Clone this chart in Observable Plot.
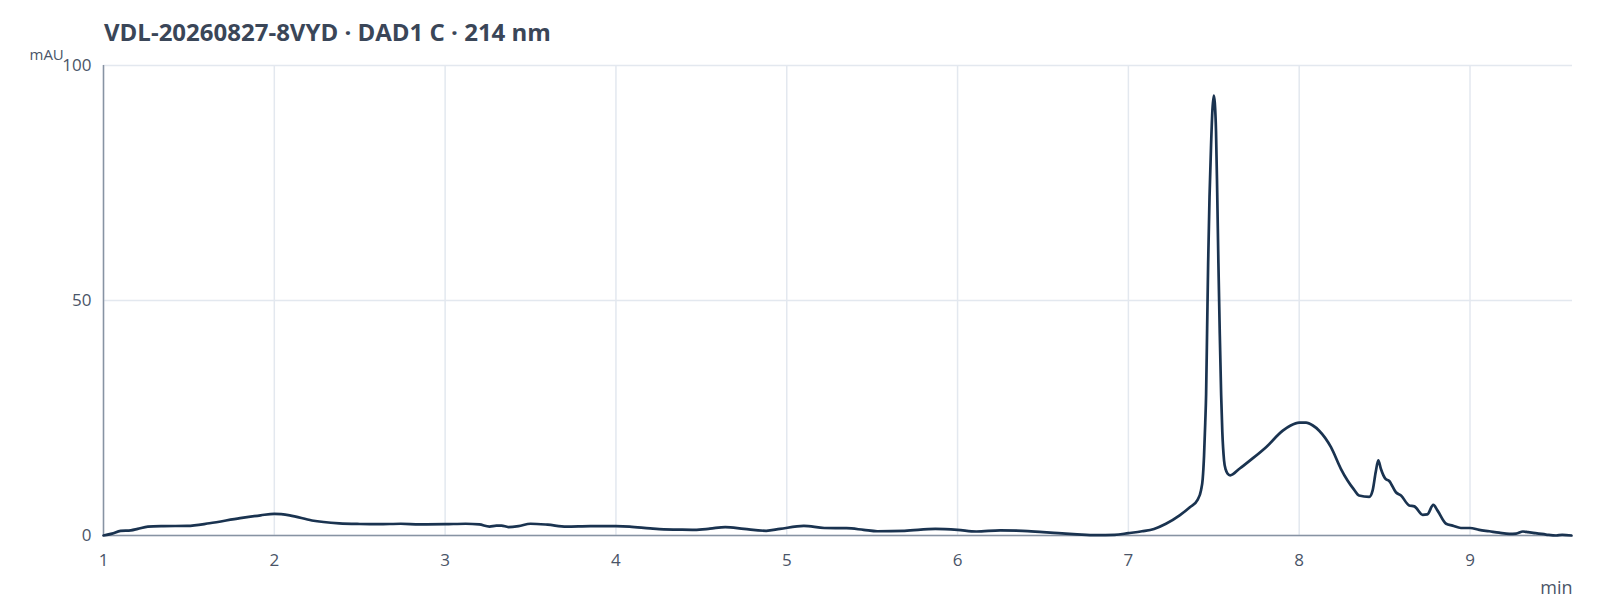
<!DOCTYPE html>
<html>
<head>
<meta charset="utf-8">
<script src="https://cdn.jsdelivr.net/npm/d3@7"></script>
<script src="https://cdn.jsdelivr.net/npm/@observablehq/plot@0.6"></script>
<style>
  html, body { margin: 0; padding: 0; background: #fff; }
  body { position: relative; width: 1600px; height: 600px; overflow: hidden; font-family: "Open Sans", sans-serif; }
  #title { position: absolute; left: 104px; top: 20px; font-size: 24px; line-height: 24px; font-weight: 700; color: #3a4658; white-space: nowrap; z-index: 2; }
  #chart { position: absolute; left: 0; top: 0; }
</style>
</head>
<body>
<div id="title"></div>
<div id="chart"></div>
<script>
const titleText = "VDL-20260827-8VYD · DAD1 C · 214 nm";
const xLabel = "min";
const yLabel = "mAU";
const xTicks = [1, 2, 3, 4, 5, 6, 7, 8, 9];
const yTicks = [0, 50, 100];

const timeMin = [
  1.00, 1.05, 1.10, 1.16, 1.20, 1.26, 1.35, 1.49, 1.62, 1.80, 1.92, 2.00, 2.09, 2.22, 2.38, 2.50,
  2.61, 2.74, 2.85, 3.00, 3.12, 3.20, 3.26, 3.30, 3.33, 3.37, 3.43, 3.50, 3.60, 3.71, 3.85, 4.00, 4.08,
  4.20, 4.28, 4.36, 4.46, 4.55, 4.64, 4.75, 4.88, 4.96, 5.10, 5.22, 5.35, 5.45, 5.53, 5.69, 5.87,
  6.00, 6.11, 6.25, 6.38, 6.50, 6.59, 6.70, 6.81, 6.92, 7.00, 7.08, 7.15, 7.22, 7.30, 7.36, 7.405,
  7.425, 7.435, 7.443, 7.450, 7.455, 7.461, 7.467, 7.475, 7.484, 7.492, 7.500, 7.506, 7.513, 7.520,
  7.527, 7.535, 7.543, 7.550, 7.560, 7.570, 7.580, 7.596,
  7.65, 7.72, 7.806, 7.904, 7.95, 8.00, 8.04, 8.08, 8.117, 8.186, 8.244, 8.283, 8.32, 8.35, 8.41,
  8.43, 8.448, 8.463, 8.478, 8.504, 8.527, 8.566, 8.596, 8.644, 8.674, 8.723, 8.75, 8.785, 8.81,
  8.86, 8.898, 8.947, 9.00, 9.054, 9.113, 9.17, 9.23, 9.27, 9.31, 9.34, 9.37, 9.445, 9.504, 9.54, 9.594
];
const absorbance = [
  0.0, 0.4, 1.0, 1.1, 1.4, 1.9, 2.0, 2.05, 2.6, 3.7, 4.3, 4.6, 4.3, 3.2, 2.6, 2.45,
  2.4, 2.5, 2.35, 2.4, 2.5, 2.35, 1.9, 2.1, 2.1, 1.8, 2.0, 2.5, 2.3, 1.9, 2.0, 2.0, 1.9,
  1.5, 1.3, 1.25, 1.2, 1.45, 1.8, 1.4, 1.0, 1.4, 2.05, 1.6, 1.55, 1.2, 0.9, 1.0, 1.4,
  1.2, 0.85, 1.1, 1.0, 0.7, 0.5, 0.25, 0.07, 0.14, 0.5, 0.9, 1.4, 2.5, 4.3, 6.0, 7.6,
  9.6, 12, 17, 24, 30, 44, 58, 72, 83, 90.5, 93.6, 92, 86, 73,
  58, 43, 30, 22, 16, 14, 13.2, 12.8,
  14.2, 16.2, 18.8, 22.3, 23.4, 24.0, 24.0, 23.4, 22.3, 18.8, 14.2, 11.7, 9.8, 8.5, 8.2,
  9.6, 13.5, 16.0, 14.2, 12.1, 11.6, 9.2, 8.5, 6.4, 6.2, 4.4, 4.5, 6.5, 5.3,
  2.5, 2.1, 1.6, 1.6, 1.2, 0.9, 0.6, 0.35, 0.4, 0.85, 0.7, 0.55, 0.2, 0.0, 0.15, 0.0
];

const data = timeMin.map((t, i) => ({t, v: absorbance[i]}));
document.getElementById("title").textContent = titleText;

const textColor = "#4a5568";
const chart = Plot.plot({
  width: 1600,
  height: 600,
  marginTop: 65,
  marginBottom: 65,
  marginLeft: 103,
  marginRight: 28,
  style: {fontFamily: "Open Sans", fontSize: "17px", color: textColor, background: "transparent"},
  x: {domain: [1, 9.6]},
  y: {domain: [0, 100]},
  marks: [
    Plot.gridX(xTicks, {stroke: "#e3e8ef", strokeOpacity: 1, strokeWidth: 1.5}),
    Plot.gridY(yTicks, {stroke: "#e3e8ef", strokeOpacity: 1, strokeWidth: 1.5}),
    Plot.ruleX([1], {stroke: "#8793a3", strokeWidth: 1.5}),
    Plot.ruleY([0], {stroke: "#8793a3", strokeWidth: 1.5}),
    Plot.axisX(xTicks, {tickSize: 0, tickPadding: 18, label: null, fill: textColor, tickFormat: d3.format("d"), fontSize: 17}),
    Plot.axisY(yTicks, {tickSize: 0, tickPadding: 12, label: null, fill: textColor, tickFormat: d3.format("d"), fontSize: 17}),
    Plot.line(data, {x: "t", y: "v", stroke: "#1a3350", strokeWidth: 2.7, curve: "monotone-x"}),
    Plot.text([yLabel], {frameAnchor: "top-left", text: d => d, dx: -74, dy: -6, lineAnchor: "bottom", textAnchor: "start", fill: textColor, fontSize: 15}),
    Plot.text([xLabel], {frameAnchor: "bottom-right", text: d => d, dx: 0, dy: 58, lineAnchor: "bottom", textAnchor: "end", fill: textColor, fontSize: 18})
  ]
});
document.getElementById("chart").appendChild(chart);
</script>
</body>
</html>
